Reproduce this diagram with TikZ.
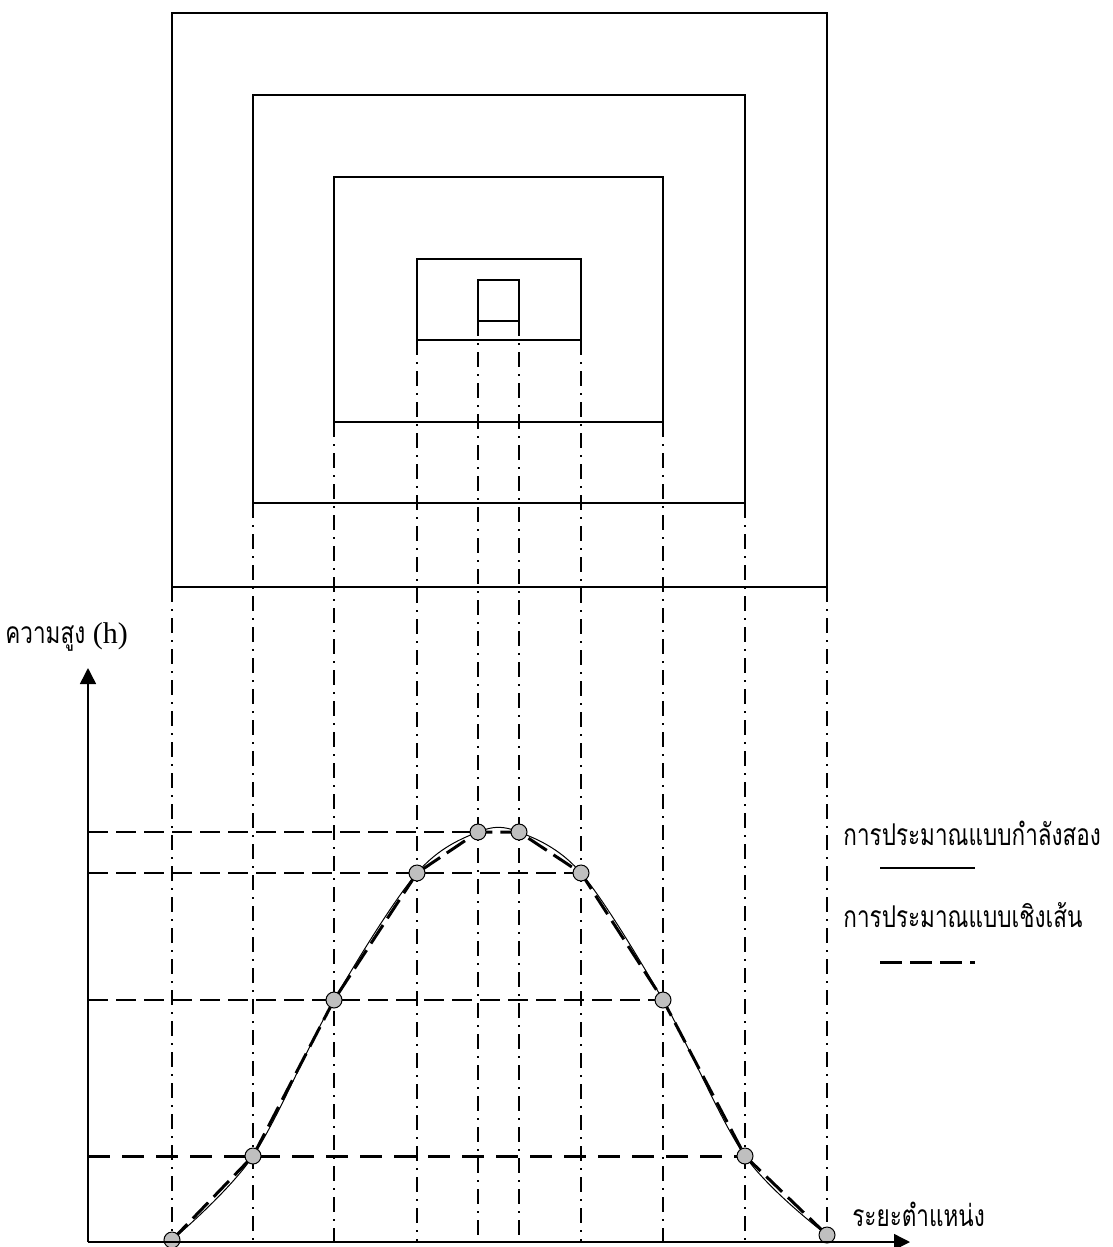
\documentclass[tikz,border=0pt]{standalone}
\usepackage{fontspec}
\setmainfont{Liberation Serif}
\newfontfamily\thaifont[Script=Thai, FakeStretch=0.75]{Loma}
\usetikzlibrary{arrows.meta}
\tikzset{
  frame/.style={line width=0.75pt},
  guide/.style={line width=0.7pt, dash pattern=on 7.5pt off 3.5pt on 1pt off 3.5pt},
  level/.style={line width=0.7pt, dash pattern=on 10pt off 4pt},
  levelthick/.style={line width=1.5pt, dash pattern=on 11pt off 6pt},
  quadfit/.style={line width=0.5pt},
  linfit/.style={line width=1.5pt, dash pattern=on 11pt off 4pt},
  sample/.style={fill=black!25, draw=black, line width=0.5pt},
  label/.style={font=\fontsize{15}{17}\selectfont, inner sep=0pt}
}
\begin{document}
\begin{tikzpicture}[x=0.5pt, y=-0.5pt, >={Triangle[length=8pt,width=8pt]}]
  \useasboundingbox (0,0) rectangle (1113,1247);

  % nested squares
  \draw[frame] (172,13) rectangle (827,587);
  \draw[frame] (253,95) rectangle (745,503);
  \draw[frame] (334,177) rectangle (663,422);
  \draw[frame] (417,259) rectangle (581,340);
  \draw[frame] (478,280) rectangle (519,321);

  \coordinate (O) at (88,1242);
  \coordinate (Ytop) at (88,668);
  \coordinate (Xend) at (910,1242);

  \coordinate (P1) at (172,1240);
  \coordinate (P2) at (253,1156);
  \coordinate (P3) at (334,1000);
  \coordinate (P4) at (417,873);
  \coordinate (P5) at (478,832);
  \coordinate (P6) at (519,832);
  \coordinate (P7) at (581,873);
  \coordinate (P8) at (663,1000);
  \coordinate (P9) at (745,1156);
  \coordinate (P10) at (827,1235);

  % projections of the corners
  \draw[guide] (172,587) -- (P1);
  \draw[guide] (253,503) -- (P2 |- O);
  \draw[guide] (334,422) -- (P3 |- O);
  \draw[guide] (417,340) -- (P4 |- O);
  \draw[guide] (478,321) -- (P5 |- O);
  \draw[guide] (519,321) -- (P6 |- O);
  \draw[guide] (581,340) -- (P7 |- O);
  \draw[guide] (663,422) -- (P8 |- O);
  \draw[guide] (745,503) -- (P9 |- O);
  \draw[guide] (827,587) -- (P10 |- O);

  % height levels
  \draw[level] (O |- P5) -- (P5);
  \draw[level] (O |- P4) -- (P7);
  \draw[level] (O |- P3) -- (P8);
  \draw[levelthick] (O |- P2) -- (P9);

  % fits
  \draw[quadfit] plot[smooth, tension=0.55] coordinates {(P1) (P2) (P3) (P4) (P5) (P6) (P7) (P8) (P9) (P10)};
  \draw[linfit] (P1) -- (P2) -- (P3) -- (P4) -- (P5) -- (P6) -- (P7) -- (P8) -- (P9) -- (P10);

  \foreach \p in {P1,P2,P3,P4,P5,P6,P7,P8,P9,P10}
    \filldraw[sample] (\p) circle (4pt);

  % axes
  \draw[line width=0.75pt, ->] (O) -- (Ytop);
  \draw[line width=0.75pt, ->] (O) -- (Xend);

  \node[label, anchor=west] (ylab) at (5,637) {{\thaifont ความสูง} (h)};
  \node[label, anchor=west] (xlab) at (852,1214) {\thaifont ระยะตำแหน่ง};

  % legend
  \node[label, anchor=west] (quadtext) at (843,833) {\thaifont การประมาณแบบกำลังสอง};
  \coordinate (Q1) at (880,868);
  \coordinate (Q2) at (975,868);
  \draw[line width=1pt] (Q1) -- (Q2);
  \node[label, anchor=west] (lintext) at (843,915) {\thaifont การประมาณแบบเชิงเส้น};
  \coordinate (L1) at (880,962);
  \coordinate (L2) at (975,962);
  \draw[line width=1.5pt, dash pattern=on 11pt off 4pt] (L1) -- (L2);
\end{tikzpicture}
\end{document}
